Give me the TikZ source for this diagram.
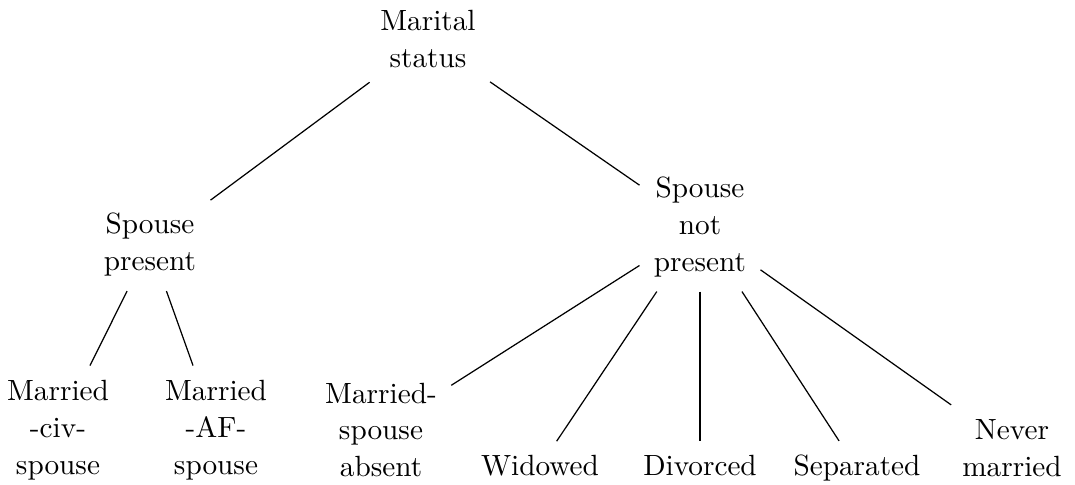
\documentclass[tikz,border=0pt]{standalone}
\begin{document}
\begin{tikzpicture}[x=0.3247pt,y=-0.3247pt,
  lbl/.style={align=center,inner sep=4.5pt,font=\fontsize{9.5}{12}\selectfont},
  edge/.style={draw=black,line width=0.4pt}]
\useasboundingbox (0,0) rectangle (1075,485);
\node[lbl] (root) at (428,39) {Marital\\status};
\node[lbl] (sp) at (150,245) {Spouse\\present};
\node[lbl] (snp) at (700,227) {Spouse\\not\\present};
\node[lbl] (civ) at (58,430) {Married\\-civ-\\spouse};
\node[lbl] (af) at (216,430) {Married\\-AF-\\spouse};
\node[lbl] (abs) at (381,430) {Married-\\spouse\\absent};
\node[lbl,anchor=base] (wid) at (540,476) {Widowed};
\node[lbl,anchor=base] (div) at (700,476) {Divorced};
\node[lbl,anchor=base] (sep) at (857,476) {Separated};
\node[lbl] (nev) at (1012,448) {Never\\married};
\draw[edge] (root) -- (sp);
\draw[edge] (root) -- (snp);
\draw[edge] (sp) -- (civ);
\draw[edge] (sp) -- (af);
\draw[edge] (snp) -- (abs);
\draw[edge] (snp) -- (wid);
\draw[edge] (snp) -- (div);
\draw[edge] (snp) -- (sep);
\draw[edge] (snp) -- (nev);
\end{tikzpicture}
\end{document}
